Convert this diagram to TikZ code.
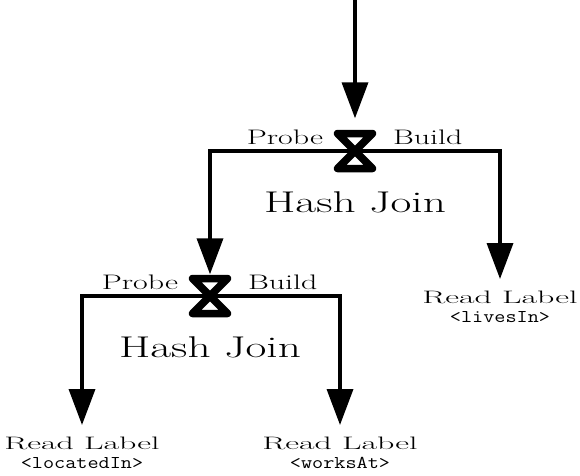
\documentclass[tikz,border=0pt]{standalone}
\usepackage{graphicx}
\usetikzlibrary{arrows.meta,positioning}

\begin{document}
\begin{tikzpicture}[
        x = 1pt, y = -1pt,
        flow/.style = {line width=3.6pt, -{Triangle[length=36pt,width=26pt]}},
        joinop/.style = {minimum size=43pt, inner sep=0pt},
        bowtie/.pic = {\draw[line width=7.5pt, line join=round] (-17.5,-17.5) -- (17.5,-17.5) -- (-17.5,17.5) -- (17.5,17.5) -- cycle;},
        portlabel/.style = {inner sep=0pt, xscale=1.52, font=\fontsize{21}{25}\selectfont},
        joinlabel/.style = {inner sep=0pt, xscale=1.51, font=\fontsize{30}{36}\selectfont},
        readop/.style = {inner sep=0pt, outer ysep=12pt, align=center, font=\fontsize{18}{20}\selectfont}
    ]
        \useasboundingbox (0,0) rectangle (580,475);

        \coordinate (output) at (355,0);
        \node[joinop] (join1) at (355,151) {};
        \node[joinop] (join2) at (210,296) {};

        \node[readop, anchor=north] (livesin) at (500,279)
            {\scalebox{1.88}[1]{Read Label}\\[-1pt]\scalebox{1.2}[1]{\ttfamily\fontsize{18}{18}\selectfont <livesIn>}};
        \node[readop, anchor=north] (locatedin) at (82,425)
            {\scalebox{1.88}[1]{Read Label}\\[-1pt]\scalebox{1.2}[1]{\ttfamily\fontsize{18}{18}\selectfont <locatedIn>}};
        \node[readop, anchor=north] (worksat) at (340,425)
            {\scalebox{1.88}[1]{Read Label}\\[-1pt]\scalebox{1.2}[1]{\ttfamily\fontsize{18}{18}\selectfont <worksAt>}};

        % upper join
        \draw[flow, shorten >=11pt] (output) -- (join1.north);
        \draw[flow] (join1.center) -| (join2.north);
        \draw[flow] (join1.center) -| (livesin.north);
        \pic at (join1) {bowtie};
        \node[portlabel, above left=6pt and 10pt of join1.west] (probe1) {Probe};
        \node[portlabel, above right=6pt and 16pt of join1.east] (build1) {Build};
        \node[joinlabel, below=19pt of join1] (hash1) {Hash Join};

        % lower join
        \draw[flow] (join2.center) -| (locatedin.north);
        \draw[flow] (join2.center) -| (worksat.north);
        \pic at (join2) {bowtie};
        \node[portlabel, above left=6pt and 10pt of join2.west] (probe2) {Probe};
        \node[portlabel, above right=6pt and 16pt of join2.east] (build2) {Build};
        \node[joinlabel, below=19pt of join2] (hash2) {Hash Join};

    \end{tikzpicture}
\end{document}
